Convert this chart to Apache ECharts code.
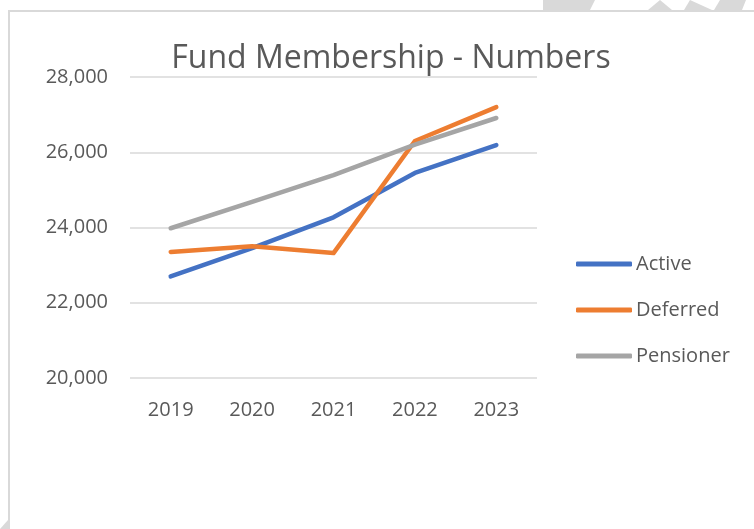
<!DOCTYPE html>
<html>
<head>
<meta charset="utf-8">
<script src="https://cdn.jsdelivr.net/npm/echarts@6/dist/echarts.min.js"></script>
<style>
  html, body { margin: 0; padding: 0; background: #fff; }
  #chart { width: 754px; height: 529px; }
</style>
</head>
<body>
<div id="chart"></div>
<script>
const years = ['2019', '2020', '2021', '2022', '2023']
const active = [22700, 23450, 24270, 25450, 26190]
const deferred = [23350, 23500, 23320, 26300, 27200]
const pensioner = [23980, 24680, 25390, 26200, 26910]
const yTicks = { min: 20000, max: 28000, step: 2000 }

const chart = echarts.init(document.getElementById('chart'))
const font = '"Open Sans", "Noto Sans", sans-serif'

const lineSeries = (name, data, color) => ({
  name,
  type: 'line',
  data,
  symbol: 'none',
  lineStyle: { color, width: 4.5, cap: 'round', join: 'round' },
  itemStyle: { color }
})

chart.setOption({
  animation: false,
  textStyle: { fontFamily: font },
  title: {
    text: 'Fund Membership - Numbers',
    left: 386,
    top: 38,
    textAlign: 'center',
    textStyle: { fontFamily: font, fontSize: 32, fontWeight: 'normal', color: '#595959' }
  },
  grid: { left: 130, right: 217, top: 77, bottom: 151 },
  legend: {
    orient: 'vertical',
    left: 576,
    top: 254,
    padding: 0,
    itemWidth: 56,
    itemHeight: 5,
    itemGap: 26,
    icon: 'roundRect',
    textStyle: { fontFamily: font, fontSize: 20, color: '#595959', padding: [0, 0, 0, -1] },
    data: ['Active', 'Deferred', 'Pensioner']
  },
  xAxis: {
    type: 'category',
    data: years,
    boundaryGap: true,
    axisLine: { show: false },
    axisTick: { show: false },
    axisLabel: { fontSize: 20, color: '#595959', margin: 22, fontFamily: font }
  },
  yAxis: {
    type: 'value',
    min: yTicks.min,
    max: yTicks.max,
    interval: yTicks.step,
    axisLine: { show: false },
    axisTick: { show: false },
    axisLabel: {
      fontSize: 20,
      color: '#595959',
      margin: 22,
      fontFamily: font,
      formatter: v => v.toLocaleString('en-US')
    },
    splitLine: { lineStyle: { color: '#d9d9d9', width: 1.5 } }
  },
  graphic: [
    // chart frame
    { type: 'polyline', shape: { points: [[9, 529], [9, 11], [754, 11]] }, style: { stroke: '#d9d9d9', lineWidth: 2, fill: null } },
    // watermark fragments at the top
    { type: 'polygon', shape: { points: [[543, 0], [595, 0], [590, 10], [543, 10]] }, style: { fill: '#d9d9d9' } },
    { type: 'polygon', shape: { points: [[660, 0], [672, 10], [648, 10]] }, style: { fill: '#d9d9d9' } },
    { type: 'polygon', shape: { points: [[690, 0], [712, 10], [684, 10]] }, style: { fill: '#d9d9d9' } },
    { type: 'polygon', shape: { points: [[720, 0], [746, 0], [742, 10], [714, 10]] }, style: { fill: '#d9d9d9' } },
    { type: 'polygon', shape: { points: [[0, 529], [8, 520], [8, 529]] }, style: { fill: '#d9d9d9' } }
  ],
  series: [
    lineSeries('Active', active, '#4472C4'),
    lineSeries('Deferred', deferred, '#ED7D31'),
    lineSeries('Pensioner', pensioner, '#A5A5A5')
  ]
})

window.addEventListener('resize', () => chart.resize())
</script>
</body>
</html>
